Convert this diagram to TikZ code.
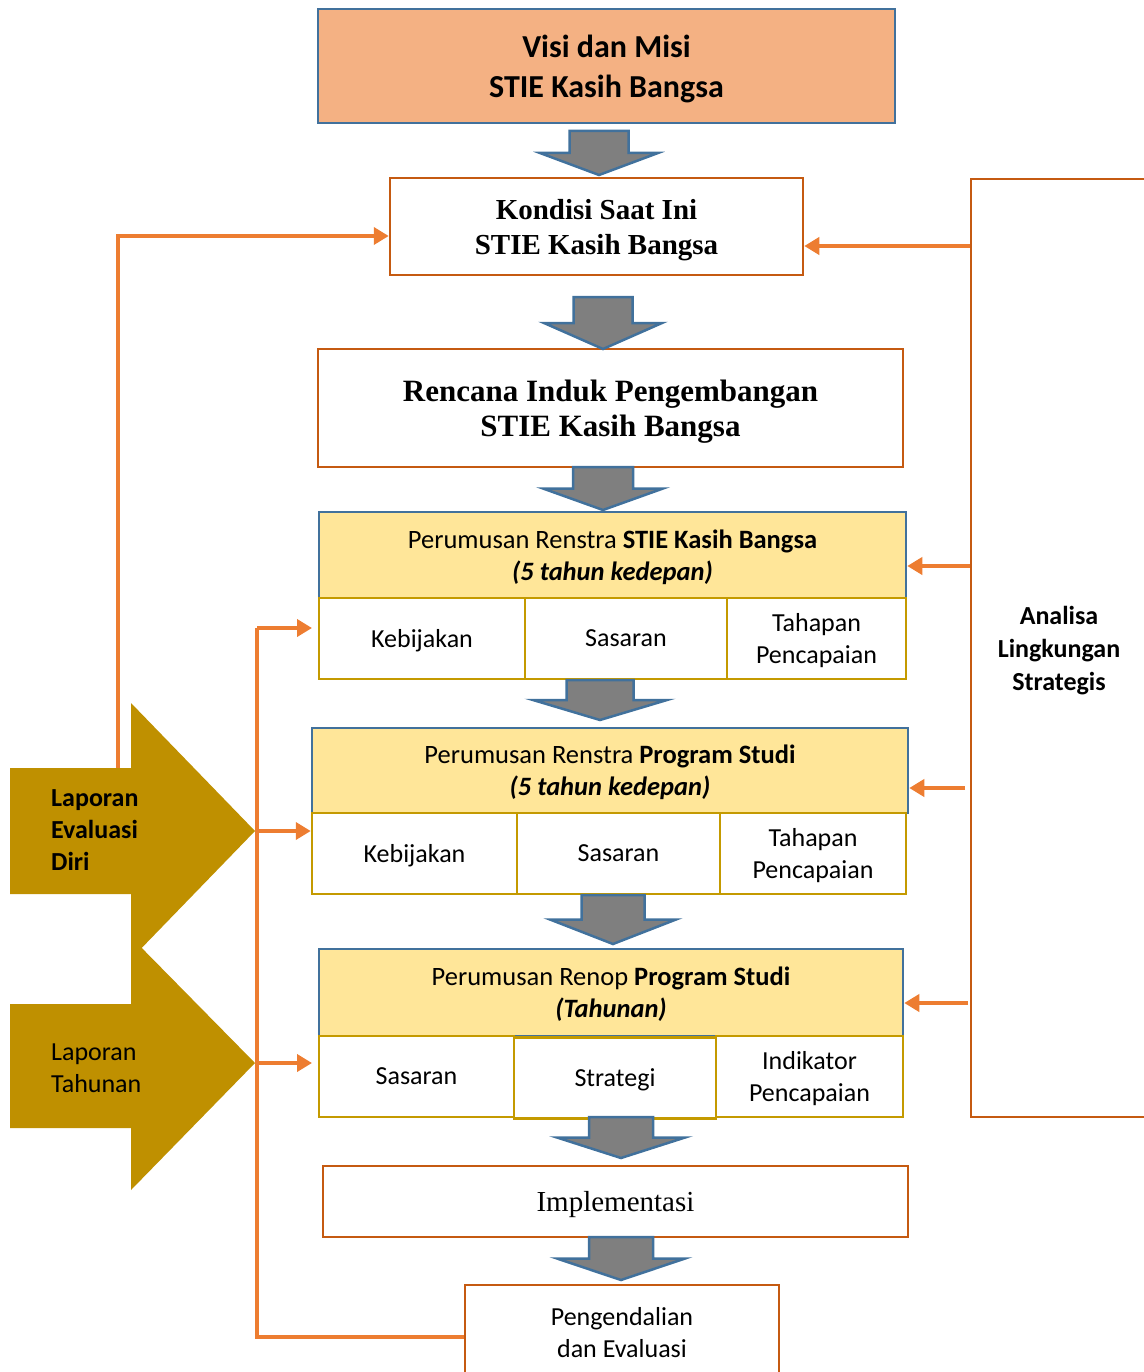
\documentclass[tikz,border=0pt]{standalone}
\usepackage{fontspec}
\setmainfont{Carlito}
\newfontfamily\cambria{Liberation Serif}
\usetikzlibrary{arrows.meta,calc}
\definecolor{visifill}{HTML}{F4B183}
\definecolor{boxblue}{HTML}{41719C}
\definecolor{boxorange}{HTML}{C55A11}
\definecolor{lineorange}{HTML}{ED7D31}
\definecolor{headyellow}{HTML}{FFE699}
\definecolor{cellgold}{HTML}{C49A00}
\definecolor{arrgold}{HTML}{BF9000}
\definecolor{arrgrey}{HTML}{7F7F7F}
\newcommand{\fsz}[2]{\fontsize{#1}{#2}\selectfont}

\begin{document}
\begin{tikzpicture}[x=1pt,y=-1pt,
  box/.style={draw=boxorange, line width=2.5pt, fill=white, align=center, inner sep=0pt, text depth=0pt},
  headbox/.style={draw=boxblue, line width=2.5pt, fill=headyellow, align=center, inner sep=0pt, text depth=0pt, font=\fsz{26.5}{32}},
  cell/.style={draw=cellgold, line width=2.5pt, fill=white, align=center, inner sep=0pt, text depth=0pt, minimum height=81pt, font=\fsz{26}{32}},
  feed/.style={draw=lineorange, line width=4.5pt},
  feedarr/.style={feed, -{Triangle[length=15pt,width=17pt]}},
  golden/.style={fill=arrgold},
  pics/downarr/.style 2 args={code={
    \draw[draw=boxblue, line width=2.5pt, fill=arrgrey]
      ({-#1/2},0) -- ({#1/2},0) -- ({#1/2},{#2/2}) -- (#1,{#2/2}) -- (0,#2)
      -- (-#1,{#2/2}) -- ({-#1/2},{#2/2}) -- cycle;
  }}
]
\useasboundingbox (0,0) rectangle (1143,1372);

% main column
\node[draw=boxblue, line width=2.5pt, fill=visifill, minimum width=577pt, minimum height=114pt,
  align=center, text depth=0pt, font=\bfseries\fsz{32}{40}] (visi) at (606.5,66) {Visi dan Misi\\STIE Kasih Bangsa};
\node[box, minimum width=413pt, minimum height=97pt, font=\cambria\bfseries\fsz{29}{35}] (kondisi) at (596.5,226.5) {Kondisi Saat Ini\\STIE Kasih Bangsa};
\node[box, minimum width=585pt, minimum height=118pt, font=\cambria\bfseries\fsz{31}{35}] (rencana) at (610.5,408) {Rencana Induk Pengembangan\\STIE Kasih Bangsa};

\node[headbox, minimum width=587pt, minimum height=86pt] (ren1) at (612.5,555) {Perumusan Renstra \textbf{STIE Kasih Bangsa}\\\textbf{\textit{(5 tahun kedepan)}}};
\node[cell, minimum width=206pt] (keb1) at (422,638.5) {Kebijakan};
\node[cell, minimum width=202pt] (sas1) at (626,638.5) {Sasaran};
\node[cell, minimum width=179pt] (tah1) at (816.5,638.5) {Tahapan\\Pencapaian};

\node[headbox, minimum width=596pt, minimum height=85pt] (ren2) at (610,770.5) {Perumusan Renstra \textbf{Program Studi}\\\textbf{\textit{(5 tahun kedepan)}}};
\node[cell, minimum width=205pt] (keb2) at (414.5,853.5) {Kebijakan};
\node[cell, minimum width=203pt] (sas2) at (618.5,853.5) {Sasaran};
\node[cell, minimum width=186pt] (tah2) at (813,853.5) {Tahapan\\Pencapaian};

\node[headbox, minimum width=584pt, minimum height=87pt] (renop) at (611,992.5) {Perumusan Renop \textbf{Program Studi}\\\textbf{\textit{(Tahunan)}}};
\node[cell, minimum width=195pt] (sas3) at (416.5,1076.5) {Sasaran};
\node[cell, minimum width=202pt] (stra3) at (615,1078) {Strategi};
\node[cell, minimum width=187pt] (ind3) at (809.5,1076.5) {Indikator\\Pencapaian};

\node[box, minimum width=585pt, minimum height=71pt, font=\cambria\fsz{29}{35}] (impl) at (615.5,1201.5) {Implementasi};
\node[box, minimum width=314pt, minimum height=94pt, font=\fsz{26}{32}] (pengend) at (622,1332) {Pengendalian\\dan Evaluasi};

% block arrows down
\pic at (599,131) {downarr={59}{44}};
\pic at (603,297) {downarr={59}{52}};
\pic at (603,467) {downarr={60}{43}};
\pic at (600,680) {downarr={67}{40}};
\pic at (613,895) {downarr={63}{49}};
\pic at (621,1117) {downarr={64}{41}};
\pic at (621,1237) {downarr={64}{43}};

% right side
\node[box, minimum width=176pt, minimum height=938pt, font=\bfseries\fsz{26}{33}] (analisa) at (1059,648) {Analisa\\Lingkungan\\Strategis};
\draw[feedarr] (analisa.west |- 0,246) -- (kondisi.east |- 0,246);
\draw[feedarr] (analisa.west |- 0,566) -- (ren1.east |- 0,566);
\draw[feedarr] (965,788) -- (ren2.east |- 0,788);
\draw[feedarr] (968,1003) -- (renop.east |- 0,1003);

% left side
\coordinate (evaltop) at (118,770);
\draw[feedarr] (evaltop) |- ([yshift=-9.5pt]kondisi.west);
\draw[feed] (pengend.west |- 0,1337) -| (257,628);
\draw[feedarr] (257,628) -- (312,628);
\draw[feedarr] (257,831) -- (keb2.west |- 0,831);
\draw[feedarr] (257,1063) -- (312,1063);

\fill[golden] (10,768) -- (131,768) -- (131,703) -- (255,831) -- (131,959) -- (131,894) -- (10,894) -- cycle;
\fill[golden] (10,1004) -- (131,1004) -- (131,937) -- (255,1063) -- (131,1190) -- (131,1128) -- (10,1128) -- cycle;
\node[anchor=west, align=left, inner sep=0pt, font=\bfseries\fsz{26}{32}] (lapeval) at (51,830) {Laporan\\Evaluasi\\Diri};
\node[anchor=west, align=left, inner sep=0pt, font=\fsz{26}{32}] (laptahun) at (51,1068) {Laporan\\Tahunan};
\end{tikzpicture}
\end{document}
